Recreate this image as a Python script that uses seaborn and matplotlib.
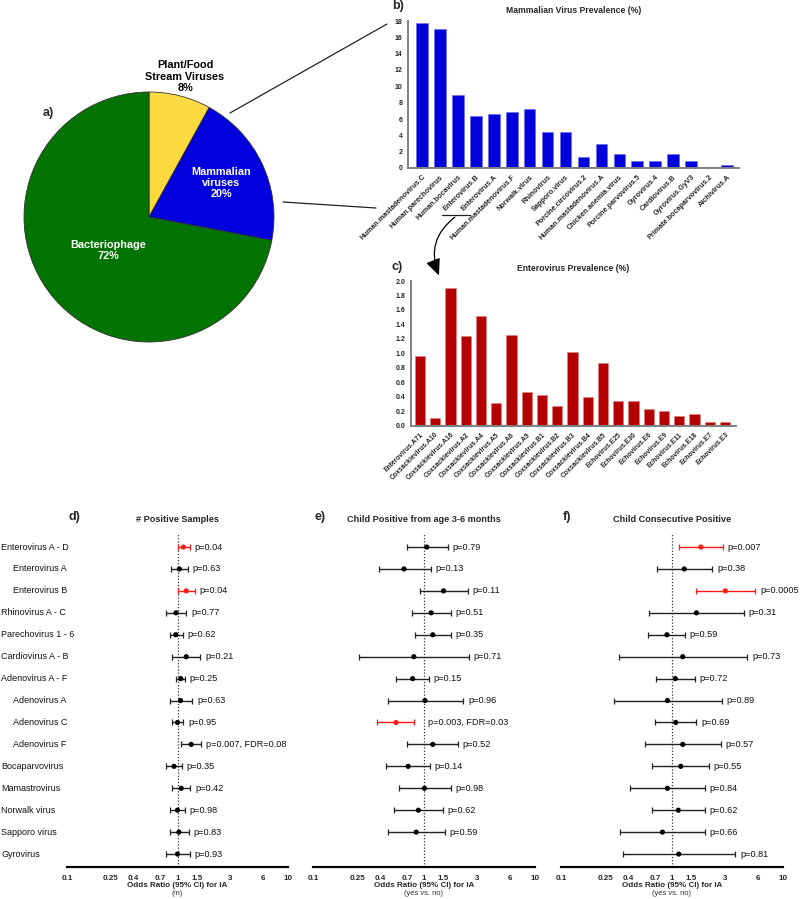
import numpy as np
import pandas as pd
import matplotlib
matplotlib.use("Agg")
import matplotlib.pyplot as plt
import seaborn as sns
from matplotlib.patches import FancyArrowPatch
import matplotlib.transforms as mtransforms

# ---------------- data ----------------
pie_labels = ["Plant/Food\nStream Viruses", "Mammalian\nviruses", "Bacteriophage"]
pie_values = [8, 20, 72]
pie_colors = ["#FDDA40", "#0000DC", "#007300"]

mamm_names = ["Human.mastadenovirus.C", "Human.parechovirus", "Human.bocavirus", "Enterovirus.B",
              "Enterovirus.A", "Human.mastadenovirus.F", "Norwalk.virus", "Rhinovirus", "Sapporo.virus",
              "Porcine.circovirus.2", "Human.mastadenovirus.A", "Chicken.anemia.virus",
              "Porcine.parvovirus.5", "Gyrovirus.4", "Cardiovirus.B", "Gyrovirus.GyV3",
              "Primate.bocaparvovirus.2", "Aichivirus.A"]
mamm_values = [17.7, 17.0, 9.0, 6.4, 6.65, 6.8, 7.2, 4.4, 4.35, 1.35, 2.95, 1.75,
               0.82, 0.9, 1.68, 0.82, 0.08, 0.33]

entero_names = ["Enterovirus.A71", "Coxsackievirus.A10", "Coxsackievirus.A16", "Coxsackievirus.A2",
                "Coxsackievirus.A4", "Coxsackievirus.A5", "Coxsackievirus.A6", "Coxsackievirus.A9",
                "Coxsackievirus.B1", "Coxsackievirus.B2", "Coxsackievirus.B3", "Coxsackievirus.B4",
                "Coxsackievirus.B5", "Echovirus.E25", "Echovirus.E30", "Echovirus.E6", "Echovirus.E9",
                "Echovirus.E11", "Echovirus.E18", "Echovirus.E7", "Echovirus.E3"]
entero_values = [0.96, 0.10, 1.91, 1.24, 1.52, 0.31, 1.25, 0.47, 0.42, 0.27, 1.02, 0.40,
                 0.87, 0.34, 0.34, 0.23, 0.20, 0.14, 0.16, 0.05, 0.045]

forest_rows = ["Enterovirus A - D", "Enterovirus A", "Enterovirus B", "Rhinovirus A - C",
               "Parechovirus 1 - 6", "Cardiovirus A - B", "Adenovirus A - F", "Adenovirus A",
               "Adenovirus C", "Adenovirus F", "Bocaparvovirus", "Mamastrovirus", "Norwalk virus",
               "Sapporo virus", "Gyrovirus"]
forest_indent = [0, 1, 1, 0, 0, 0, 0, 1, 1, 1, 0, 0, 0, 0, 0]

d_or = [1.13, 1.04, 1.20, 0.97, 0.965, 1.20, 1.07, 1.065, 1.00, 1.33, 0.93, 1.08, 1.00, 1.03, 1.00]
d_lo = [1.00, 0.88, 1.00, 0.78, 0.86, 0.90, 0.965, 0.85, 0.895, 1.08, 0.79, 0.89, 0.85, 0.85, 0.78]
d_hi = [1.29, 1.24, 1.43, 1.20, 1.11, 1.61, 1.16, 1.36, 1.13, 1.64, 1.09, 1.31, 1.16, 1.27, 1.29]
d_p = ["p=0.04", "p=0.63", "p=0.04", "p=0.77", "p=0.62", "p=0.21", "p=0.25", "p=0.63", "p=0.95",
       "p=0.007, FDR=0.08", "p=0.35", "p=0.42", "p=0.98", "p=0.83", "p=0.93"]
d_sig = [1, 0, 1, 0, 0, 0, 0, 0, 0, 0, 0, 0, 0, 0, 0]

e_or = [1.06, 0.66, 1.50, 1.16, 1.20, 0.81, 0.79, 1.02, 0.56, 1.20, 0.72, 1.01, 0.89, 0.85, np.nan]
e_lo = [0.71, 0.39, 0.92, 0.78, 0.83, 0.26, 0.56, 0.47, 0.38, 0.71, 0.45, 0.60, 0.54, 0.47, np.nan]
e_hi = [1.63, 1.15, 2.48, 1.75, 1.75, 2.54, 1.11, 2.26, 0.81, 2.01, 1.13, 1.74, 1.47, 1.54, np.nan]
e_p = ["p=0.79", "p=0.13", "p=0.11", "p=0.51", "p=0.35", "p=0.71", "p=0.15", "p=0.96",
       "p=0.003, FDR=0.03", "p=0.52", "p=0.14", "p=0.98", "p=0.62", "p=0.59", ""]
e_sig = [0, 0, 0, 0, 0, 0, 0, 0, 1, 0, 0, 0, 0, 0, 0]

f_or = [1.82, 1.29, 3.02, 1.66, 0.90, 1.25, 1.07, 0.91, 1.08, 1.25, 1.20, 0.91, 1.14, 0.82, 1.15]
f_lo = [1.16, 0.73, 1.63, 0.62, 0.61, 0.33, 0.72, 0.30, 0.70, 0.57, 0.66, 0.42, 0.66, 0.34, 0.36]
f_hi = [2.86, 2.31, 5.63, 4.45, 1.30, 4.77, 1.61, 2.80, 1.66, 2.76, 2.14, 1.98, 1.97, 1.97, 3.72]
f_p = ["p=0.007", "p=0.38", "p=0.0005", "p=0.31", "p=0.59", "p=0.73", "p=0.72", "p=0.89", "p=0.69",
       "p=0.57", "p=0.55", "p=0.84", "p=0.62", "p=0.66", "p=0.81"]
f_sig = [1, 0, 1, 0, 0, 0, 0, 0, 0, 0, 0, 0, 0, 0, 0]

or_ticks = [0.1, 0.25, 0.4, 0.7, 1, 1.5, 3, 6, 10]
or_tick_labels = ["0.1", "0.25", "0.4", "0.7", "1", "1.5", "3", "6", "10"]

# ---------------- style ----------------
sns.set_style("white")
plt.rcParams['font.family'] = ['Liberation Sans', 'DejaVu Sans']

W, H = 800, 899
fig = plt.figure(figsize=(W / 100, H / 100), dpi=100)


def px_axes(x0, y0, x1, y1):
    """axes from pixel box (top-left origin)"""
    return fig.add_axes([x0 / W, 1 - y1 / H, (x1 - x0) / W, (y1 - y0) / H])


# ---------------- a) pie ----------------
ax_pie = px_axes(24, 92, 274, 342)
wedges, _ = ax_pie.pie(pie_values, colors=pie_colors, startangle=90, counterclock=False,
                       wedgeprops=dict(edgecolor="#333333", linewidth=0.6))
ax_pie.set_xlim(-1, 1)
ax_pie.set_ylim(-1, 1)
lab_r = [1.16, 0.64, 0.42]
lab_col = ["black", "white", "white"]
for w, lab, v, r, c in zip(wedges, pie_labels, pie_values, lab_r, lab_col):
    ang = np.deg2rad((w.theta1 + w.theta2) / 2)
    ax_pie.text(r * np.cos(ang), r * np.sin(ang), f"{lab}\n{v}%", ha="center", va="center",
                fontsize=7.8, fontweight="bold", color=c, linespacing=1.15, clip_on=False)

# ---------------- b) mammalian bars ----------------
spine_col = "#808080"


def style_bar_axes(ax):
    sns.despine(ax=ax)
    for s in ["left", "bottom"]:
        ax.spines[s].set_color(spine_col)
        ax.spines[s].set_linewidth(1.4)
    ax.tick_params(axis="both", which="major", length=2.5, width=0.8, color=spine_col, pad=1.5)
    ax.set_xlabel("")
    ax.set_ylabel("")


ax_b = px_axes(408, 21, 739, 168)
sns.barplot(x=mamm_names, y=mamm_values, color="#0000DD", saturation=1, width=0.65, ax=ax_b,
            edgecolor="#6A6AF0", linewidth=0.4)
ax_b.set_xlim(-0.78, 17.67)
ax_b.set_ylim(0, 18)
ax_b.set_yticks(np.arange(0, 19, 2))
ax_b.set_yticklabels([str(v) for v in range(0, 19, 2)], fontsize=5, fontweight="bold")
ax_b.set_xticks(range(len(mamm_names)))
ax_b.set_xticklabels(mamm_names, rotation=45, ha="right", rotation_mode="anchor",
                     fontsize=5.2, fontweight="bold")
style_bar_axes(ax_b)
ax_b.set_title("Mammalian Virus Prevalence (%)", fontsize=6.2, fontweight="bold", pad=6)

# ---------------- c) enterovirus bars ----------------
ax_c = px_axes(411, 281, 736, 425.7)
sns.barplot(x=entero_names, y=entero_values, color="#B40000", saturation=1, width=0.66, ax=ax_c,
            edgecolor="#E08080", linewidth=0.4)
ax_c.set_xlim(-0.59, 20.72)
ax_c.set_ylim(0, 2.0)
cy = np.round(np.arange(0, 2.01, 0.2), 1)
ax_c.set_yticks(cy)
ax_c.set_yticklabels([f"{v:.1f}" for v in cy], fontsize=5, fontweight="bold")
ax_c.set_xticks(range(len(entero_names)))
ax_c.set_xticklabels(entero_names, rotation=45, ha="right", rotation_mode="anchor",
                     fontsize=4.9, fontweight="bold")
style_bar_axes(ax_c)
ax_c.set_title("Enterovirus Prevalence (%)", fontsize=6.2, fontweight="bold", pad=7)

# ---------------- d/e/f forest plots ----------------
n_rows = len(forest_rows)


def forest(ax, o, lo, hi, ptxt, sig, title, sub):
    df = pd.DataFrame({"row": np.arange(n_rows), "or": o, "lo": lo, "hi": hi,
                       "p": ptxt, "sig": ["sig" if s else "ns" for s in sig]})
    df = df.dropna()
    ax.axvline(1, color="#333333", linestyle=(0, (1, 1.5)), linewidth=0.9, zorder=1)
    for _, r in df.iterrows():
        col = "#FF1A1A" if r["sig"] == "sig" else "#222222"
        ax.errorbar(r["or"], r["row"], xerr=[[r["or"] - r["lo"]], [r["hi"] - r["or"]]],
                    fmt="none", ecolor=col, elinewidth=1.0, capsize=2.2, capthick=0.9, zorder=2)
        gap = 10.5 if "FDR=0.03" in r["p"] else 3.5
        ax.annotate(r["p"], xy=(r["hi"], r["row"]), xytext=(gap, 0), textcoords="offset points",
                    va="center", ha="left", fontsize=6.6, color="#111111", annotation_clip=False)
    sns.scatterplot(data=df, x="or", y="row", hue="sig",
                    palette={"sig": "#FF1A1A", "ns": "black"}, legend=False, s=14,
                    edgecolor="none", ax=ax, zorder=3)
    ax.set_xscale("log")
    ax.set_xlim(0.1, 10)
    ax.set_ylim(n_rows - 1 + 0.59, -0.64)
    ax.set_xticks(or_ticks)
    ax.set_xticklabels(or_tick_labels, fontsize=5.8, fontweight="bold")
    ax.xaxis.set_minor_locator(matplotlib.ticker.NullLocator())
    ax.set_yticks([])
    for s in ["left", "right", "top"]:
        ax.spines[s].set_visible(False)
    ax.spines["bottom"].set_linewidth(1.6)
    ax.spines["bottom"].set_color("black")
    ax.tick_params(axis="x", length=4, width=1.3, color="black", pad=1.5)
    ax.set_ylabel("")
    ax.set_xlabel("Odds Ratio (95% CI) for IA", fontsize=5.8, fontweight="bold", labelpad=0)
    ax.text(0.5, -0.08, sub, transform=ax.transAxes, ha="center", va="center",
            fontsize=5.4, color="#333333")
    ax.set_title(title, fontsize=6.6, fontweight="bold", pad=8)


ax_d = px_axes(67, 533, 288, 867)
forest(ax_d, d_or, d_lo, d_hi, d_p, d_sig, "# Positive Samples", "(/n)")
ax_e = px_axes(313, 533, 535, 867)
forest(ax_e, e_or, e_lo, e_hi, e_p, e_sig, "Child Positive from age 3-6 months", "(yes vs. no)")
ax_f = px_axes(561, 533, 783, 867)
forest(ax_f, f_or, f_lo, f_hi, f_p, f_sig, "Child Consecutive Positive", "(yes vs. no)")

# row labels (left side)
trans = mtransforms.blended_transform_factory(fig.transFigure, ax_d.transData)
for i, (lab, ind) in enumerate(zip(forest_rows, forest_indent)):
    fig.text((1 + 12 * ind) / W, i, lab, transform=trans, ha="left", va="center",
             fontsize=6.5, color="#111111")

# ---------------- overlay: connectors, arrow, panel letters ----------------
ov = fig.add_axes([0, 0, 1, 1], zorder=-1)
ov.set_xlim(0, W)
ov.set_ylim(H, 0)
ov.axis("off")
ov.patch.set_alpha(0)
ov.plot([230, 387], [113, 24], color="#222222", linewidth=0.9)
ov.plot([283, 376], [202, 208], color="#222222", linewidth=0.9)
ov.plot([442, 470], [215, 215], color="#222222", linewidth=0.9)
arrow = FancyArrowPatch((457, 215.5), (440, 278), connectionstyle="arc3,rad=0.4",
                        arrowstyle="-|>,head_length=1.0,head_width=0.45", mutation_scale=10,
                        color="black", linewidth=0.9)
ov.add_patch(arrow)

for txt, x, y in [("a)", 48, 113), ("b)", 398, 6), ("c)", 397, 267),
                  ("d)", 74, 517), ("e)", 320, 517), ("f)", 567, 517)]:
    ov.text(x, y, txt, ha="center", va="center", fontsize=9, fontweight="bold")

fig.savefig("out.png", dpi=100)
